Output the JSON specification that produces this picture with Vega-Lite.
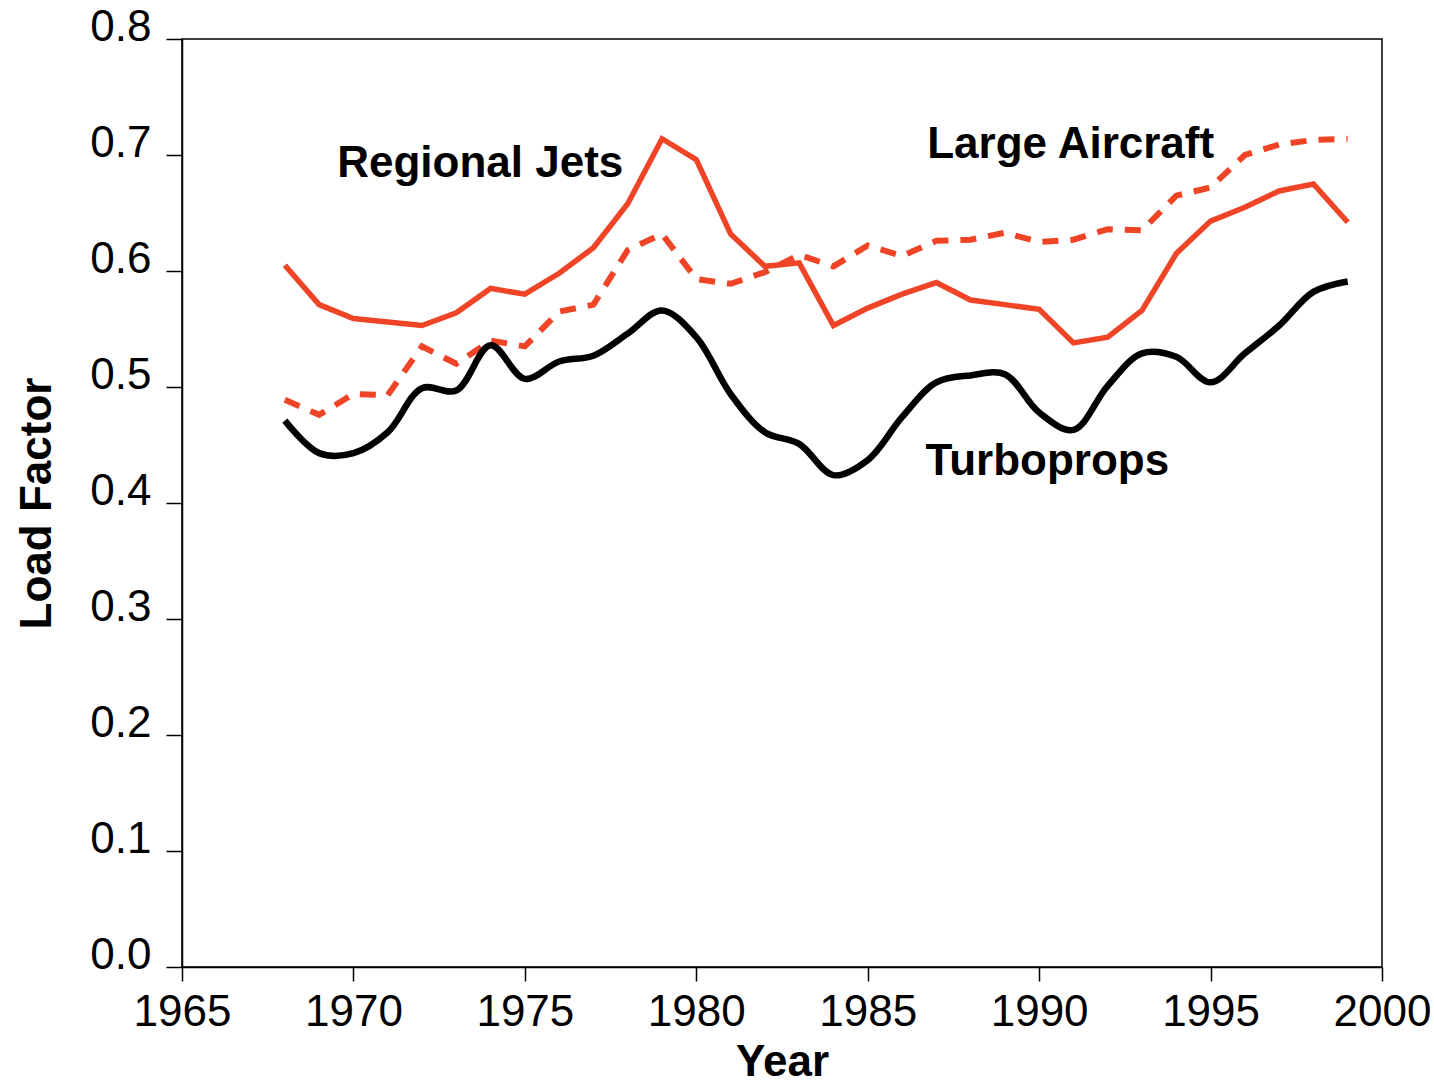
{
  "$schema": "https://vega.github.io/schema/vega-lite/v6.json",
  "autosize": "none",
  "width": 1200,
  "height": 928,
  "padding": {"left": 182, "top": 39, "right": 52, "bottom": 117},
  "background": "white",
  "config": {
    "view": {"stroke": "black", "strokeWidth": 1.5},
    "font": "Liberation Sans",
    "axis": {
      "domainColor": "black", "domainWidth": 1.5, "tickColor": "black", "tickWidth": 1.5,
      "labelFont": "Liberation Sans", "labelFontSize": 44, "labelColor": "black",
      "titleFont": "Liberation Sans", "titleFontSize": 44, "titleFontWeight": "bold", "titleColor": "black",
      "grid": false
    }
  },
  "datasets": {
    "lf": [
      {"year": 1968, "series": "Regional Jets", "value": 0.605},
      {"year": 1969, "series": "Regional Jets", "value": 0.571},
      {"year": 1970, "series": "Regional Jets", "value": 0.559},
      {"year": 1971, "series": "Regional Jets", "value": 0.556},
      {"year": 1972, "series": "Regional Jets", "value": 0.553},
      {"year": 1973, "series": "Regional Jets", "value": 0.564},
      {"year": 1974, "series": "Regional Jets", "value": 0.585},
      {"year": 1975, "series": "Regional Jets", "value": 0.580},
      {"year": 1976, "series": "Regional Jets", "value": 0.598},
      {"year": 1977, "series": "Regional Jets", "value": 0.620},
      {"year": 1978, "series": "Regional Jets", "value": 0.658},
      {"year": 1979, "series": "Regional Jets", "value": 0.714},
      {"year": 1980, "series": "Regional Jets", "value": 0.696},
      {"year": 1981, "series": "Regional Jets", "value": 0.632},
      {"year": 1982, "series": "Regional Jets", "value": 0.604},
      {"year": 1983, "series": "Regional Jets", "value": 0.607},
      {"year": 1984, "series": "Regional Jets", "value": 0.553},
      {"year": 1985, "series": "Regional Jets", "value": 0.568},
      {"year": 1986, "series": "Regional Jets", "value": 0.580},
      {"year": 1987, "series": "Regional Jets", "value": 0.590},
      {"year": 1988, "series": "Regional Jets", "value": 0.575},
      {"year": 1989, "series": "Regional Jets", "value": 0.571},
      {"year": 1990, "series": "Regional Jets", "value": 0.567},
      {"year": 1991, "series": "Regional Jets", "value": 0.538},
      {"year": 1992, "series": "Regional Jets", "value": 0.543},
      {"year": 1993, "series": "Regional Jets", "value": 0.566},
      {"year": 1994, "series": "Regional Jets", "value": 0.615},
      {"year": 1995, "series": "Regional Jets", "value": 0.643},
      {"year": 1996, "series": "Regional Jets", "value": 0.655},
      {"year": 1997, "series": "Regional Jets", "value": 0.669},
      {"year": 1998, "series": "Regional Jets", "value": 0.675},
      {"year": 1999, "series": "Regional Jets", "value": 0.642},
      {"year": 1968, "series": "Large Aircraft", "value": 0.489},
      {"year": 1969, "series": "Large Aircraft", "value": 0.476},
      {"year": 1970, "series": "Large Aircraft", "value": 0.494},
      {"year": 1971, "series": "Large Aircraft", "value": 0.493},
      {"year": 1972, "series": "Large Aircraft", "value": 0.535},
      {"year": 1973, "series": "Large Aircraft", "value": 0.520},
      {"year": 1974, "series": "Large Aircraft", "value": 0.540},
      {"year": 1975, "series": "Large Aircraft", "value": 0.535},
      {"year": 1976, "series": "Large Aircraft", "value": 0.565},
      {"year": 1977, "series": "Large Aircraft", "value": 0.571},
      {"year": 1978, "series": "Large Aircraft", "value": 0.618},
      {"year": 1979, "series": "Large Aircraft", "value": 0.632},
      {"year": 1980, "series": "Large Aircraft", "value": 0.593},
      {"year": 1981, "series": "Large Aircraft", "value": 0.589},
      {"year": 1982, "series": "Large Aircraft", "value": 0.599},
      {"year": 1983, "series": "Large Aircraft", "value": 0.614},
      {"year": 1984, "series": "Large Aircraft", "value": 0.604},
      {"year": 1985, "series": "Large Aircraft", "value": 0.622},
      {"year": 1986, "series": "Large Aircraft", "value": 0.613},
      {"year": 1987, "series": "Large Aircraft", "value": 0.626},
      {"year": 1988, "series": "Large Aircraft", "value": 0.627},
      {"year": 1989, "series": "Large Aircraft", "value": 0.633},
      {"year": 1990, "series": "Large Aircraft", "value": 0.625},
      {"year": 1991, "series": "Large Aircraft", "value": 0.627},
      {"year": 1992, "series": "Large Aircraft", "value": 0.636},
      {"year": 1993, "series": "Large Aircraft", "value": 0.635},
      {"year": 1994, "series": "Large Aircraft", "value": 0.665},
      {"year": 1995, "series": "Large Aircraft", "value": 0.672},
      {"year": 1996, "series": "Large Aircraft", "value": 0.700},
      {"year": 1997, "series": "Large Aircraft", "value": 0.709},
      {"year": 1998, "series": "Large Aircraft", "value": 0.713},
      {"year": 1999, "series": "Large Aircraft", "value": 0.714},
      {"year": 1968, "series": "Turboprops", "value": 0.471},
      {"year": 1969, "series": "Turboprops", "value": 0.443},
      {"year": 1970, "series": "Turboprops", "value": 0.443},
      {"year": 1971, "series": "Turboprops", "value": 0.461},
      {"year": 1972, "series": "Turboprops", "value": 0.499},
      {"year": 1973, "series": "Turboprops", "value": 0.497},
      {"year": 1974, "series": "Turboprops", "value": 0.536},
      {"year": 1975, "series": "Turboprops", "value": 0.507},
      {"year": 1976, "series": "Turboprops", "value": 0.522},
      {"year": 1977, "series": "Turboprops", "value": 0.527},
      {"year": 1978, "series": "Turboprops", "value": 0.546},
      {"year": 1979, "series": "Turboprops", "value": 0.566},
      {"year": 1980, "series": "Turboprops", "value": 0.543},
      {"year": 1981, "series": "Turboprops", "value": 0.494},
      {"year": 1982, "series": "Turboprops", "value": 0.461},
      {"year": 1983, "series": "Turboprops", "value": 0.451},
      {"year": 1984, "series": "Turboprops", "value": 0.424},
      {"year": 1985, "series": "Turboprops", "value": 0.437},
      {"year": 1986, "series": "Turboprops", "value": 0.474},
      {"year": 1987, "series": "Turboprops", "value": 0.504},
      {"year": 1988, "series": "Turboprops", "value": 0.510},
      {"year": 1989, "series": "Turboprops", "value": 0.511},
      {"year": 1990, "series": "Turboprops", "value": 0.478},
      {"year": 1991, "series": "Turboprops", "value": 0.463},
      {"year": 1992, "series": "Turboprops", "value": 0.501},
      {"year": 1993, "series": "Turboprops", "value": 0.529},
      {"year": 1994, "series": "Turboprops", "value": 0.526},
      {"year": 1995, "series": "Turboprops", "value": 0.504},
      {"year": 1996, "series": "Turboprops", "value": 0.529},
      {"year": 1997, "series": "Turboprops", "value": 0.553},
      {"year": 1998, "series": "Turboprops", "value": 0.582},
      {"year": 1999, "series": "Turboprops", "value": 0.591}
    ],
    "labels": [
      {"label": "Regional Jets", "year": 1973.7, "value": 0.6813},
      {"label": "Large Aircraft", "year": 1990.92, "value": 0.6971},
      {"label": "Turboprops", "year": 1990.24, "value": 0.424}
    ]
  },
  "layer": [
    {
      "data": {"name": "lf"},
      "transform": [{"filter": "datum.series === 'Large Aircraft'"}],
      "mark": {"type": "line", "color": "#EF4526", "strokeWidth": 6, "strokeDash": [16, 12]},
      "encoding": {
        "x": {
          "field": "year", "type": "quantitative",
          "scale": {"domain": [1965, 2000], "nice": false, "zero": false},
          "axis": {
            "title": "Year", "values": [1965, 1970, 1975, 1980, 1985, 1990, 1995, 2000],
            "format": "d", "tickSize": 14, "labelPadding": 9, "titlePadding": 6,
            "labelFlush": false, "labelOverlap": false
          }
        },
        "y": {
          "field": "value", "type": "quantitative",
          "scale": {"domain": [0, 0.8], "nice": false},
          "axis": {
            "title": "Load Factor", "values": [0, 0.1, 0.2, 0.3, 0.4, 0.5, 0.6, 0.7, 0.8],
            "format": ".1f", "tickSize": 16, "labelPadding": 15, "labelOffset": -12,
            "titlePadding": 30, "labelFlush": false, "labelOverlap": false
          }
        }
      }
    },
    {
      "data": {"name": "lf"},
      "transform": [{"filter": "datum.series === 'Regional Jets'"}],
      "mark": {"type": "line", "color": "#EF4526", "strokeWidth": 5.5},
      "encoding": {
        "x": {"field": "year", "type": "quantitative"},
        "y": {"field": "value", "type": "quantitative"}
      }
    },
    {
      "data": {"name": "lf"},
      "transform": [{"filter": "datum.series === 'Turboprops'"}],
      "mark": {"type": "line", "color": "black", "strokeWidth": 6.5, "interpolate": "catmull-rom"},
      "encoding": {
        "x": {"field": "year", "type": "quantitative"},
        "y": {"field": "value", "type": "quantitative"}
      }
    },
    {
      "data": {"name": "labels"},
      "mark": {"type": "text", "font": "Liberation Sans", "fontSize": 44, "fontWeight": "bold", "color": "black", "align": "center", "baseline": "alphabetic"},
      "encoding": {
        "x": {"field": "year", "type": "quantitative"},
        "y": {"field": "value", "type": "quantitative"},
        "text": {"field": "label"}
      }
    }
  ]
}
